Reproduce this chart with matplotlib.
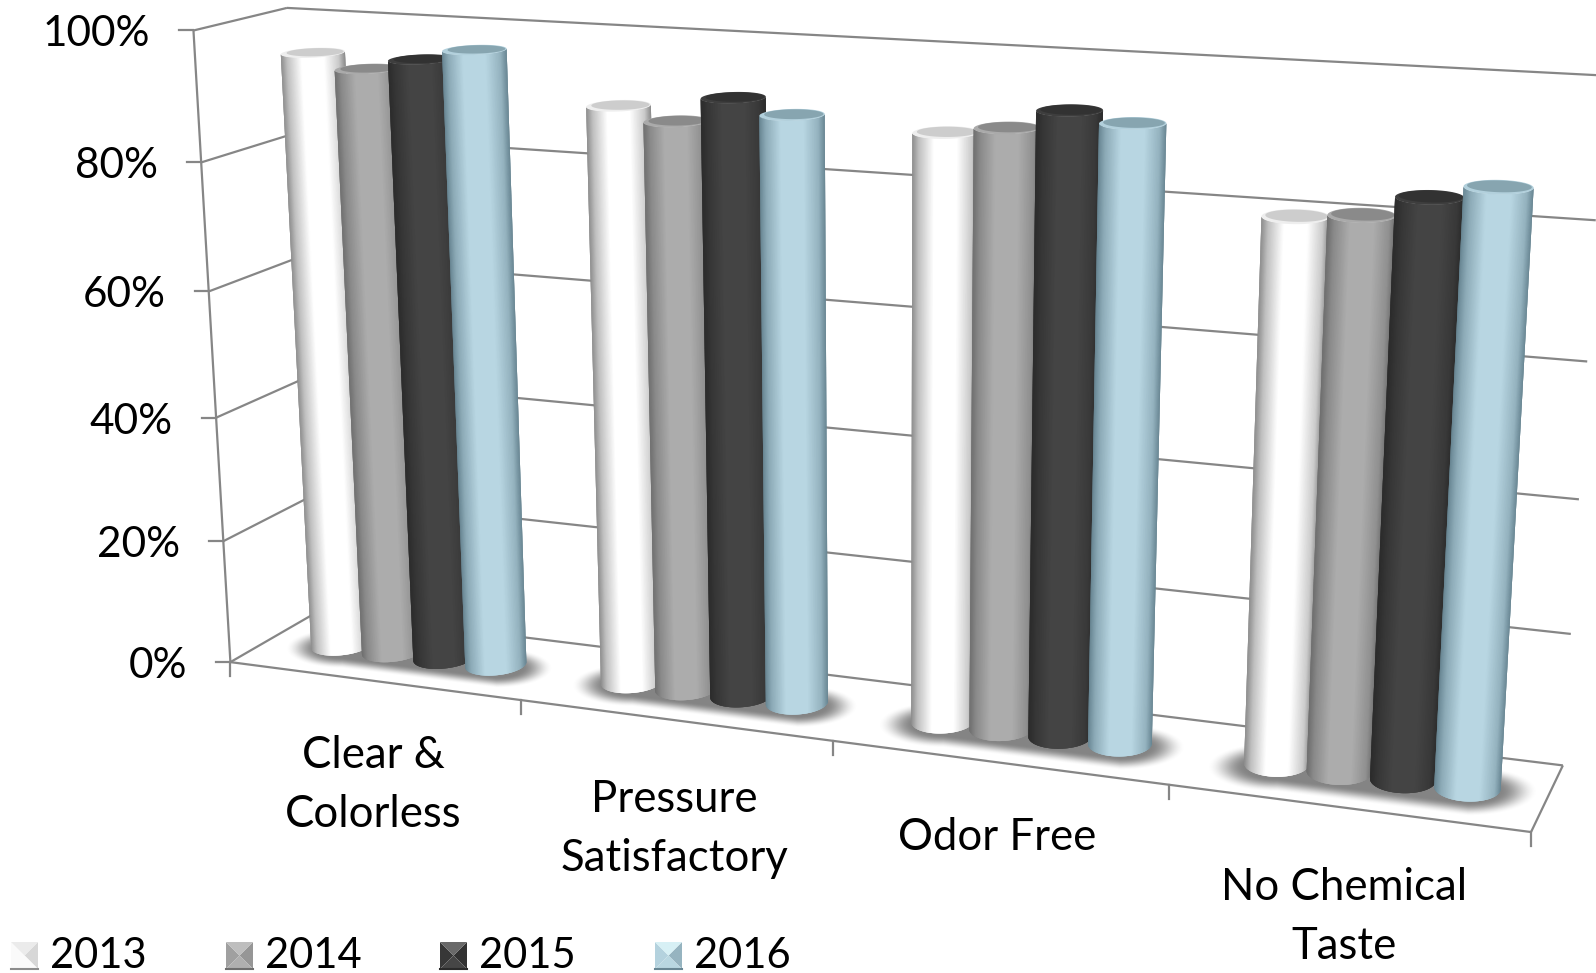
import numpy as np
import matplotlib
matplotlib.use("Agg")
import matplotlib.pyplot as plt
from matplotlib.collections import PolyCollection

categories = ["Clear &\nColorless", "Pressure\nSatisfactory", "Odor Free", "No Chemical\nTaste"]
years = ["2013", "2014", "2015", "2016"]
v2013 = [95.4, 90.1, 89.1, 80.4]
v2014 = [93.4, 88.3, 90.3, 81.2]
v2015 = [95.3, 92.3, 93.3, 84.3]
v2016 = [97.2, 90.3, 92, 86.3]
values = [v2013, v2014, v2015, v2016]
yticks = [0, 20, 40, 60, 80, 100]

W, H = 1596, 973
plt.rcParams['font.family'] = ['Lato', 'DejaVu Sans']
fig = plt.figure(figsize=(W / 100, H / 100), dpi=100)
ax = fig.add_axes([0, 0, 1, 1])
ax.set_xlim(0, W)
ax.set_ylim(H, 0)
ax.axis('off')

# perspective of the box: (u along categories, height, w depth) -> picture, fitted
box = [(0, 0, 0, 230, 663), (1, 0, 0, 1533, 830), (1, 0, 1, 1563, 764),
       (0, 1, 0, 193, 31), (0, 1, 1, 287, 7), (1, 1, 1, 1605, 77),
       (.25, 0, 0, 521, 700), (.5, 0, 0, 833, 741), (.75, 0, 0, 1167, 786),
       (0, .2, 0, 224, 541), (0, .4, 0, 217, 418), (0, .6, 0, 209, 291), (0, .8, 0, 201, 162),
       (1, .2, 1, 1572, 635), (1, .4, 1, 1578, 501), (1, .6, 1, 1586, 361), (1, .8, 1, 1596, 219)]
A, b = [], []
for u, v, w, px, py in box:
    A.append([u, v, w, 1, 0, 0, 0, 0, -px * u, -px * v, -px * w])
    b.append(px)
    A.append([0, 0, 0, 0, u, v, w, 1, -py * u, -py * v, -py * w])
    b.append(py)
p = np.linalg.lstsq(np.array(A, float), np.array(b, float), rcond=None)[0]
P = np.append(p, 1).reshape(3, 4)


def proj(u, v, w):
    u, v, w = np.broadcast_arrays(u, v, w)
    q = P @ np.array([u, v, w, np.ones_like(u)], float)
    return q[0] / q[2], q[1] / q[2]


grid = '#868686'


def line(a, b, lw=1.6):
    x0, y0 = proj(*a)
    x1, y1 = proj(*b)
    ax.plot([x0, x1], [y0, y1], color=grid, lw=lw, zorder=1, solid_capstyle='butt')


# walls, floor and ticks
for t in yticks:
    v = t / 100
    line((0, v, 0), (0, v, 1))
    line((0, v, 1), (1, v, 1))
    x, y = proj(0, v, 0)
    ax.plot([x - 14, x], [y, y], color=grid, lw=1.6, zorder=1)
    ax.text(x - 43, y + 4, f"{t}%", ha='right', va='center', fontsize=30.5, color='black')
line((0, 0, 0), (0, 1, 0))
line((0, 0, 0), (1, 0, 0))
line((1, 0, 0), (1, 0, 1))
for i in range(5):
    x, y = proj(i / 4, 0, 0)
    ax.plot([x, x], [y, y + 14], color=grid, lw=1.6, zorder=1)

bar_w = 0.18
r_u = bar_w / 8
r_w = 0.2
w_mid = 0.5
theta = np.linspace(0, 2 * np.pi, 241)[:-1]


def centre(i, j):
    return (i + 0.51 + (j - 1.5) * bar_w) / 4


# soft shadows under the groups
yy, xx = np.mgrid[0:H, 0:W]
shade = np.zeros((H, W))
for i in range(4):
    x0, y0 = proj(centre(i, 0), 0, w_mid)
    x1, y1 = proj(centre(i, 3), 0, w_mid)
    t = np.clip((xx - x0) / (x1 - x0), 0, 1)
    d = np.hypot(xx - (x0 + t * (x1 - x0)), 2.8 * (yy - (y0 + t * (y1 - y0)) - 3))
    r = (x1 - x0) / 3
    s = np.clip((r * 1.1 - d) / (r * 0.6), 0, 1)
    shade = np.maximum(shade, s * s * (3 - 2 * s))
rgba = np.zeros((H, W, 4))
rgba[..., :3] = 0.36
rgba[..., 3] = shade * 0.75
ax.imshow(rgba, extent=(0, W, H, 0), aspect='auto', zorder=2, interpolation='bilinear')
ax.set_xlim(0, W)
ax.set_ylim(H, 0)

edge_col = np.array([[140, 140, 140], [110, 110, 110], [42, 42, 42], [105, 135, 148]]) / 255
mid_col = np.array([[255, 255, 255], [172, 172, 172], [68, 68, 68], [184, 214, 226]]) / 255
top_col = np.array([[205, 205, 205], [138, 138, 138], [50, 50, 50], [135, 165, 176]]) / 255
rim_col = np.array([[238, 238, 238], [170, 170, 170], [62, 62, 62], [178, 208, 220]]) / 255

z = 3
for i in range(4):
    for j in range(4):
        u0 = centre(i, j)
        v = values[j][i] / 100
        cu = u0 + r_u * np.cos(theta)
        cw = w_mid + r_w * np.sin(theta)
        bx, by = proj(cu, 0, cw)
        tx, ty = proj(cu, v, cw)
        # front arc between the outermost points of the base
        a, c = int(np.argmin(bx)), int(np.argmax(bx))
        n = len(theta)
        k = a
        arc = [a]
        while k != c:
            k = (k + 1) % n
            arc.append(k)
        polys, cols = [], []
        # every strip runs a bit under the next one, so no seams show
        for m in range(len(arc) - 1):
            s0 = arc[m]
            s = arc[m:m + 4]
            polys.append([(bx[q], by[q]) for q in s] + [(tx[q], ty[q]) for q in s[::-1]])
            t = 2 * ((bx[s0] + bx[arc[m + 1]]) / 2 - bx[a]) / (bx[c] - bx[a]) - 1
            f = np.interp(t, [-1, -.8, -.35, .35, .8, 1], [0, .45, 1, 1, .55, 0])
            cols.append(edge_col[j] + f * (mid_col[j] - edge_col[j]))
        ax.add_collection(PolyCollection(polys, facecolors=cols, edgecolors='none', zorder=z))
        ax.fill(tx, ty, color=rim_col[j], lw=0, zorder=z + 0.1)
        ix, iy = proj(u0 + 0.93 * r_u * np.cos(theta), v, w_mid + r_w * 0.12 + 0.8 * r_w * np.sin(theta))
        ax.fill(ix, iy, color=top_col[j], lw=0, zorder=z + 0.2)
        z += 1

# category labels
label_x = [373, 674, 997, 1344]
label_y = [785, 829, 838, 917]
for lab, x, y in zip(categories, label_x, label_y):
    ax.text(x, y, lab, ha='center', va='center', fontsize=31.5, linespacing=1.55, multialignment='center')

# legend with bevelled swatches
sw_x = [11, 226, 440, 655]
text_x = [50, 265, 479, 694]
sw_left = np.array([[250, 250, 250], [160, 160, 160], [55, 55, 55], [180, 210, 222]]) / 255
sw_right = np.array([[215, 215, 215], [150, 150, 150], [50, 50, 50], [150, 180, 192]]) / 255
sw_up = np.array([[235, 235, 235], [190, 190, 190], [105, 105, 105], [215, 240, 245]]) / 255
sw_down = np.array([[250, 250, 250], [175, 175, 175], [70, 70, 70], [185, 215, 225]]) / 255
sw_top = 942
sw = 27
for j in range(4):
    x, y = sw_x[j], sw_top
    cx, cy = x + sw / 2, y + sw / 2
    ax.fill([x, x, cx], [y, y + sw, cy], color=sw_left[j], lw=0, zorder=21)
    ax.fill([x + sw, x + sw, cx], [y, y + sw, cy], color=sw_right[j], lw=0, zorder=21)
    ax.fill([x, x + sw, cx], [y, y, cy], color=sw_up[j], lw=0, zorder=21)
    ax.fill([x, x + sw, cx], [y + sw, y + sw, cy], color=sw_down[j], lw=0, zorder=21)
    ax.plot([x, x + sw], [y + sw, y + sw], color=edge_col[j], lw=1.5, zorder=22)
    ax.text(text_x[j], 968, years[j], ha='left', va='baseline', fontsize=30, color='black')

fig.savefig('out.png', dpi=100)
